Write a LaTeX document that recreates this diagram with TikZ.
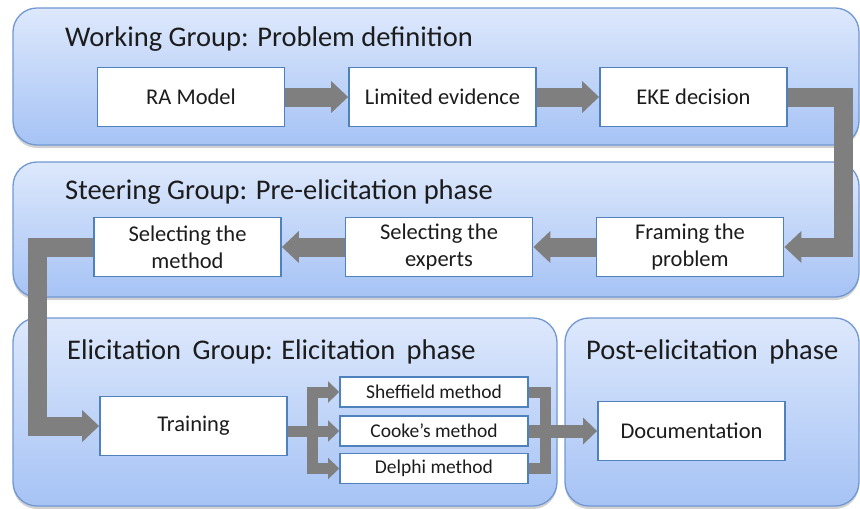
\documentclass[tikz,border=0pt]{standalone}
\usepackage{fontspec}
\setmainfont{Carlito}
\usetikzlibrary{arrows.meta,shadows}

\definecolor{panelTop}{HTML}{DDE8FC}
\definecolor{panelBot}{HTML}{A6C3F5}
\definecolor{panelEdge}{HTML}{7198D2}
\definecolor{boxEdge}{HTML}{4F81BD}
\definecolor{flow}{HTML}{7F7F7F}
\definecolor{ink}{HTML}{1C1C1C}

\begin{document}
\begin{tikzpicture}[x=1pt,y=-1pt,
  panel/.style={rounded corners=24pt, draw=panelEdge, line width=1.3pt,
    top color=panelTop, bottom color=panelBot,
    drop shadow={shadow xshift=0pt, shadow yshift=-3pt, opacity=0.3, fill=black!60}},
  phase/.style={anchor=west, inner sep=0pt, text=ink, font=\fontsize{28.5}{32}\selectfont},
  stepbox/.style={draw=boxEdge, line width=1.8pt, fill=white, text=ink,
    minimum width=187pt, minimum height=59pt, inner sep=2pt, align=center,
    font=\fontsize{22.5}{27}\selectfont},
  methodbox/.style={stepbox, minimum width=188pt, minimum height=30pt,
    font=\fontsize{19.5}{22}\selectfont},
  bigflow/.style={draw=flow, line width=19pt, line join=miter,
    -{Triangle[width=31pt,length=17pt]}},
  smallflow/.style={draw=flow, line width=11pt, line join=miter,
    -{Triangle[width=21pt,length=11pt]}},
  midflow/.style={draw=flow, line width=13pt, line join=miter,
    -{Triangle[width=26pt,length=14pt]}},
  bracketline/.style={draw=flow, line width=11pt, line join=miter}
]
\useasboundingbox (0,0) rectangle (860,509);

% group panels
\path[panel] (13,8) rectangle (859,145);
\path[panel] (13,162) rectangle (859,297);
\path[panel] (13,318) rectangle (557,506);
\path[panel] (565,318) rectangle (859,506);

% panel titles
\node[phase] (t1) at (65,39) {Working Group: Problem definition};
\node[phase] (t2) at (65,192) {Steering Group: Pre-elicitation phase};
\node[phase] (t3) at (67,352) {Elicitation\hspace{5pt} Group: Elicitation\hspace{5pt} phase};
\node[phase] (t4) at (586,352) {Post-elicitation\hspace{5pt} phase};

% process steps
\node[stepbox] (ra) at (191,97) {RA Model};
\node[stepbox] (lim) at (442.5,97) {Limited evidence};
\node[stepbox] (eke) at (693.5,97) {EKE decision};
\node[stepbox] (frame) at (690,247) {Framing the\\problem};
\node[stepbox] (experts) at (439,247) {Selecting the\\experts};
\node[stepbox] (method) at (187.5,247) {Selecting the\\method};
\node[stepbox] (train) at (193.5,426) {Training};
\node[methodbox] (sheff) at (434,392) {Sheffield method};
\node[methodbox] (cooke) at (434,431) {Cooke’s method};
\node[methodbox] (delphi) at (434,468.5) {Delphi method};
\node[stepbox] (doc) at (691.5,431) {Documentation};

% main flow
\draw[bigflow] (ra) -- (lim);
\draw[bigflow] (lim) -- (eke);
\draw[bigflow] (eke.east) -- ++(56,0) |- (frame.east);
\draw[bigflow] (frame) -- (experts);
\draw[bigflow] (experts) -- (method);
\draw[bigflow] (method.west) -- ++(-56,0) |- (train.west);

% branching into the elicitation methods
\coordinate (fork) at (312,431);
\draw[smallflow] (train.east |- fork) -- (cooke.west);
\draw[smallflow] (fork) |- (sheff.west);
\draw[smallflow] (fork) |- (delphi.west);

% merging into documentation
\coordinate (merge) at (545,431);
\draw[bracketline] (sheff.east) -- (sheff.east -| merge) -- (delphi.east -| merge) -- (delphi.east);
\draw[midflow] (cooke.east) -- (doc.west);
\end{tikzpicture}
\end{document}
